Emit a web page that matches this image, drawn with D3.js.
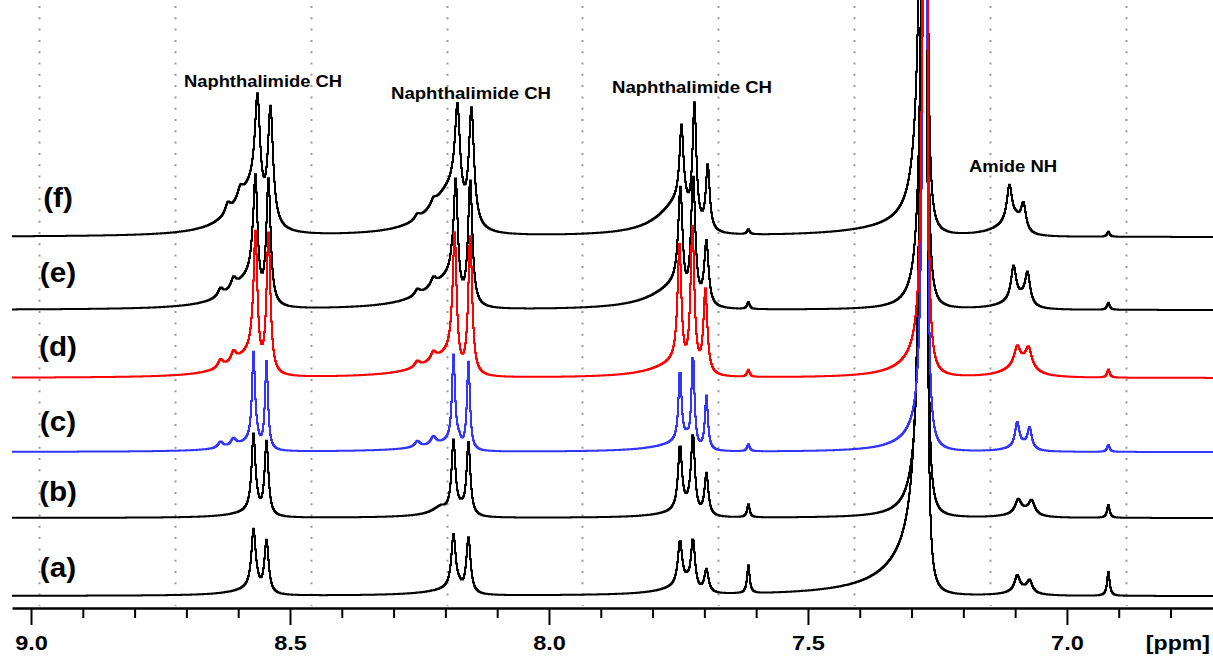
<!DOCTYPE html>
<html>
<head>
<meta charset="utf-8">
<script src="https://cdn.jsdelivr.net/npm/d3@7"></script>
<style>
  body { margin: 0; background: #fff; }
  svg { display: block; }
  text { font-family: "Liberation Sans", Arial, sans-serif; font-weight: bold; }
</style>
</head>
<body>
<svg id="nmr" width="1213" height="656"></svg>
<script>

// peaks: [ppm, height, half width on the high-ppm side, half width on the low-ppm side]
var spectraNames = ["(a)", "(b)", "(c)", "(d)", "(e)", "(f)"];
var spectraOffsets = [12, 90, 156, 230, 298, 371];

var peaksA = [
    [8.5714, 58, 0.005, 0.005], [8.5463, 53, 0.005, 0.005], [8.565, 7, 0.05, 0.006],
    [8.1853, 53, 0.005, 0.005], [8.1564, 56, 0.005, 0.005], [8.175, 7, 0.06, 0.006],
    [7.748, 44, 0.005, 0.005], [7.723, 52, 0.005, 0.005], [7.697, 23, 0.005, 0.005], [7.735, 9, 0.05, 0.006],
    [7.616, 28, 0.003, 0.003],
    [7.274, 2000, 0.0058, 0.0019], [7.274, 40, 0.077, 0.0039],
    [7.097, 15, 0.006, 0.006], [7.073, 11, 0.006, 0.006], [7.085, 6, 0.03, 0.02],
    [6.921, 24, 0.003, 0.003]
];
var peaksB = [
    [8.5714, 76, 0.0045, 0.0045], [8.5463, 74, 0.0045, 0.0045], [8.565, 6, 0.05, 0.006],
    [8.1853, 70, 0.0045, 0.0045], [8.1564, 73, 0.0045, 0.0045], [8.21, 6, 0.02, 0.01], [8.17, 6, 0.06, 0.006],
    [7.748, 64, 0.0045, 0.0045], [7.723, 78, 0.0045, 0.0045], [7.697, 42, 0.0045, 0.0045], [7.73, 8, 0.05, 0.006],
    [7.616, 13, 0.003, 0.003],
    [7.274, 2000, 0.0047, 0.0019],
    [7.095, 13, 0.007, 0.007], [7.069, 13, 0.007, 0.007], [7.082, 6, 0.03, 0.02],
    [6.921, 13, 0.003, 0.003]
];
var peaksC = [
    [8.5714, 88, 0.0035, 0.0035], [8.5463, 88, 0.0035, 0.0035], [8.635, 6, 0.006, 0.006], [8.610, 7, 0.006, 0.006], [8.565, 10, 0.05, 0.005],
    [8.1853, 86, 0.0035, 0.0035], [8.1564, 88, 0.0035, 0.0035], [8.255, 6, 0.006, 0.006], [8.224, 8, 0.006, 0.006], [8.175, 10, 0.07, 0.005],
    [7.748, 72, 0.0035, 0.0035], [7.723, 95, 0.0035, 0.0035], [7.697, 54, 0.0035, 0.0035], [7.735, 10, 0.06, 0.005],
    [7.616, 7, 0.003, 0.003],
    [7.274, 2000, 0.0029, 0.0019], [7.274, 18, 0.048, 0.0039],
    [7.097, 24, 0.005, 0.005], [7.073, 20, 0.005, 0.005], [7.085, 6, 0.03, 0.015],
    [6.921, 7, 0.003, 0.003]
];
var peaksD = [
    [8.5676, 135, 0.0045, 0.0045], [8.5425, 140, 0.0045, 0.0045], [8.635, 8, 0.006, 0.006], [8.610, 10, 0.006, 0.006], [8.575, 22, 0.05, 0.005],
    [8.183, 135, 0.0045, 0.0045], [8.153, 140, 0.0045, 0.0045], [8.255, 6, 0.006, 0.006], [8.224, 8, 0.006, 0.006], [8.19, 22, 0.06, 0.005],
    [7.749, 115, 0.0045, 0.0045], [7.724, 145, 0.0045, 0.0045], [7.699, 84, 0.0045, 0.0045], [7.75, 14, 0.06, 0.005],
    [7.616, 7, 0.003, 0.003],
    [7.274, 2000, 0.0029, 0.0019], [7.274, 20, 0.048, 0.0039],
    [7.097, 18, 0.007, 0.007], [7.075, 18, 0.007, 0.007], [7.086, 14, 0.035, 0.025],
    [6.921, 8, 0.003, 0.003]
];
var peaksE = [
    [8.5676, 118, 0.005, 0.005], [8.5425, 125, 0.005, 0.005], [8.635, 8, 0.006, 0.006], [8.610, 10, 0.006, 0.006], [8.575, 30, 0.05, 0.006],
    [8.181, 118, 0.005, 0.005], [8.153, 126, 0.005, 0.005], [8.255, 6, 0.006, 0.006], [8.224, 8, 0.006, 0.006], [8.19, 30, 0.06, 0.006],
    [7.747, 98, 0.005, 0.005], [7.7226, 128, 0.005, 0.005], [7.697, 64, 0.005, 0.005], [7.75, 24, 0.06, 0.006],
    [7.616, 7, 0.003, 0.003],
    [7.274, 2000, 0.0039, 0.0019],
    [7.104, 34, 0.006, 0.006], [7.077, 31, 0.006, 0.006], [7.09, 10, 0.04, 0.015],
    [6.921, 7, 0.003, 0.003]
];
var peaksF = [
    [8.5637, 102, 0.006, 0.006], [8.5386, 114, 0.006, 0.006], [8.621, 10, 0.006, 0.006], [8.597, 10, 0.006, 0.006], [8.575, 45, 0.045, 0.02],
    [8.1776, 95, 0.006, 0.006], [8.1506, 115, 0.006, 0.006], [8.255, 5, 0.006, 0.006], [8.224, 6, 0.006, 0.006], [8.19, 45, 0.05, 0.02],
    [7.7452, 72, 0.0045, 0.0045], [7.7201, 120, 0.0045, 0.0045], [7.6944, 65, 0.0045, 0.0045], [7.745, 35, 0.05, 0.015],
    [7.616, 5, 0.003, 0.003],
    [7.274, 2000, 0.005, 0.0019], [7.274, 12, 0.116, 0.006],
    [7.112, 36, 0.006, 0.006], [7.085, 27, 0.006, 0.006], [7.10, 16, 0.04, 0.012],
    [6.921, 5, 0.003, 0.003]
];
var spectraPeaks = [peaksA, peaksB, peaksC, peaksD, peaksE, peaksF];

var majorTicks = [9.0, 8.5, 8.0, 7.5, 7.0];
var minorTicks = [8.9, 8.8, 8.7, 8.6, 8.4, 8.3, 8.2, 8.1, 7.9, 7.8, 7.7, 7.6, 7.4, 7.3, 7.2, 7.1, 6.9, 6.8];
var gridLines = [8.985, 8.722, 8.4595, 8.197, 7.9363, 7.6737, 7.4112, 7.1486, 6.886];
var titles = ["Naphthalimide CH", "Naphthalimide CH", "Naphthalimide CH", "Amide NH"];

// layout
var colors = ["#000", "#000", "#3434ff", "#ff0000", "#000", "#000"];
var drawOrder = [5, 4, 1, 0, 2, 3];
var labelY = [577, 501, 431, 356, 282, 207];
var titlePos = [[263, 87], [471, 99], [692, 93], [1013, 172]];
var titleWidth = [158, 160, 160, 88];
var axisY = 608;

var svg = d3.select("#nmr");

var x = d3.scaleLinear().domain([9.0367, 6.718]).range([12, 1213]);
var y = d3.scaleLinear().domain([0, 608]).range([axisY, 0]);

svg.append("defs").append("clipPath")
    .attr("id", "plotclip")
    .append("rect")
    .attr("x", 12).attr("y", 0)
    .attr("width", 1201).attr("height", axisY - 1);

// dotted grid
svg.append("g").selectAll("line")
    .data(gridLines)
    .enter().append("line")
    .attr("x1", function(d) { return Math.round(x(d)) + 0.5; })
    .attr("x2", function(d) { return Math.round(x(d)) + 0.5; })
    .attr("y1", 6)
    .attr("y2", axisY - 2)
    .attr("stroke", "#9a9a9a")
    .attr("stroke-width", 2)
    .attr("stroke-dasharray", "2,9.3");

// sample the line shape once per pixel
var samples = d3.range(12, 1214).map(function(px) { return x.invert(px); });

function intensity(ppm, peaks) {
    var s = 0;
    peaks.forEach(function(p) {
        var d = ppm - p[0];
        var w = d > 0 ? p[2] : p[3];
        s += p[1] * w * w / (w * w + d * d);
    });
    return s;
}

var plot = svg.append("g").attr("clip-path", "url(#plotclip)");

drawOrder.forEach(function(i) {
    var pts = samples.map(function(ppm) {
        return {ppm: ppm, v: intensity(ppm, spectraPeaks[i])};
    });
    var line = d3.line()
        .x(function(d) { return x(d.ppm); })
        .y(function(d) { return Math.max(-20, y(spectraOffsets[i] + d.v)); })
        .curve(d3.curveStepAfter);
    plot.append("path")
        .datum(pts)
        .attr("fill", "none")
        .attr("stroke", colors[i])
        .attr("stroke-width", 2)
        .attr("d", line);
});

// spectrum labels
spectraNames.forEach(function(name, i) {
    var t = svg.append("text")
        .attr("x", 58)
        .attr("y", labelY[i])
        .attr("text-anchor", "middle")
        .style("font-size", "27px")
        .text(name);
    var w = t.node().getComputedTextLength();
    t.attr("textLength", w * 1.1).attr("lengthAdjust", "spacingAndGlyphs");
});

// peak group titles
titles.forEach(function(name, i) {
    svg.append("text")
        .attr("x", titlePos[i][0])
        .attr("y", titlePos[i][1])
        .attr("text-anchor", "middle")
        .attr("textLength", titleWidth[i])
        .attr("lengthAdjust", "spacingAndGlyphs")
        .style("font-size", "16px")
        .text(name);
});

// axis
var minorAxis = svg.append("g")
    .attr("transform", "translate(0," + axisY + ")")
    .call(d3.axisBottom(x).tickValues(minorTicks).tickSize(10).tickSizeOuter(0).tickFormat(""));
minorAxis.select(".domain").remove();

var majorAxis = svg.append("g")
    .attr("transform", "translate(0," + axisY + ")")
    .call(d3.axisBottom(x).tickValues(majorTicks).tickSize(17).tickSizeOuter(0).tickPadding(10).tickFormat(d3.format(".1f")));

svg.selectAll(".tick line").attr("stroke", "#000").attr("stroke-width", 2);
majorAxis.select(".domain").attr("stroke", "#000").attr("stroke-width", 2.5);
majorAxis.selectAll("text")
    .attr("fill", "#000")
    .style("font-family", "'Liberation Sans', Arial, sans-serif")
    .style("font-weight", "bold")
    .style("font-size", "21px")
    .each(function() {
        var w = this.getComputedTextLength();
        d3.select(this).attr("textLength", w * 1.12).attr("lengthAdjust", "spacingAndGlyphs");
    });

var unit = svg.append("text")
    .attr("x", 1210)
    .attr("y", 650)
    .attr("text-anchor", "end")
    .style("font-size", "21px")
    .text("[ppm]");
unit.attr("textLength", unit.node().getComputedTextLength() * 1.1).attr("lengthAdjust", "spacingAndGlyphs");

</script>
</body>
</html>
